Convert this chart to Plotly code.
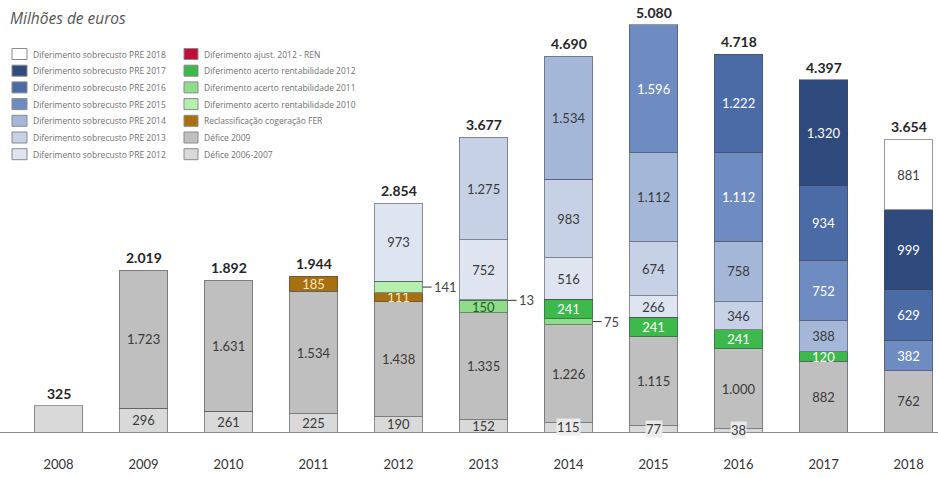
import plotly.graph_objects as go

# Years on the category axis
years = ["2008", "2009", "2010", "2011", "2012", "2013", "2014", "2015", "2016", "2017", "2018"]

# Stack components, bottom to top (millions of euros); None = no segment
defice_2006_2007 = [325, 296, 261, 225, 190, 152, 115, 77, 38, None, None]
defice_2009 = [None, 1723, 1631, 1534, 1438, 1335, 1226, 1115, 1000, 882, 762]
reclass_cogeracao = [None, None, None, 185, 111, None, None, None, None, None, None]
acerto_rent_2010 = [None, None, None, None, 141, None, None, None, None, None, None]
acerto_rent_2011 = [None, None, None, None, None, 150, 75, None, None, None, None]
acerto_rent_2012 = [None, None, None, None, None, 13, 241, 241, 241, 120, None]
ajust_2012_ren = [None] * 11
pre_2012 = [None, None, None, None, 973, 752, 516, 266, None, None, None]
pre_2013 = [None, None, None, None, None, 1275, 983, 674, 346, None, None]
pre_2014 = [None, None, None, None, None, None, 1534, 1112, 758, 388, None]
pre_2015 = [None, None, None, None, None, None, None, 1596, 1112, 752, 382]
pre_2016 = [None, None, None, None, None, None, None, None, 1222, 934, 629]
pre_2017 = [None, None, None, None, None, None, None, None, None, 1320, 999]
pre_2018 = [None, None, None, None, None, None, None, None, None, None, 881]

# Published totals printed above each bar
totals = [325, 2019, 1892, 1944, 2854, 3677, 4690, 5080, 4718, 4397, 3654]

# (name, values, fill, label colour, key column, key row)
series = [
    ("Défice 2006-2007", defice_2006_2007, "#d9d9d9", "#3a3a3a", 1, 6),
    ("Défice 2009", defice_2009, "#bfbfbf", "#3a3a3a", 1, 5),
    ("Reclassificação cogeração FER", reclass_cogeracao, "#a8700f", "#f6e7c4", 1, 4),
    ("Diferimento acerto rentabilidade 2010", acerto_rent_2010, "#b4eeb0", "#1e5e1e", 1, 3),
    ("Diferimento acerto rentabilidade 2011", acerto_rent_2011, "#8fdc8a", "#1e5e1e", 1, 2),
    ("Diferimento acerto rentabilidade 2012", acerto_rent_2012, "#3cb94a", "#ffffff", 1, 1),
    ("Diferimento ajust. 2012 - REN", ajust_2012_ren, "#c0103a", "#ffffff", 1, 0),
    ("Diferimento sobrecusto PRE 2012", pre_2012, "#dfe5f0", "#3a3a3a", 0, 6),
    ("Diferimento sobrecusto PRE 2013", pre_2013, "#c6d1e5", "#3a3a3a", 0, 5),
    ("Diferimento sobrecusto PRE 2014", pre_2014, "#a5b7d8", "#3a3a3a", 0, 4),
    ("Diferimento sobrecusto PRE 2015", pre_2015, "#6f8cc2", "#ffffff", 0, 3),
    ("Diferimento sobrecusto PRE 2016", pre_2016, "#4b6ba7", "#ffffff", 0, 2),
    ("Diferimento sobrecusto PRE 2017", pre_2017, "#2f4a7c", "#ffffff", 0, 1),
    ("Diferimento sobrecusto PRE 2018", pre_2018, "#ffffff", "#3a3a3a", 0, 0),
]

# Segments too thin for an inside label get a callout to the right
outside = {
    ("Diferimento acerto rentabilidade 2010", "2012"),
    ("Diferimento acerto rentabilidade 2012", "2013"),
    ("Diferimento acerto rentabilidade 2011", "2014"),
}
# Single-segment bar: its value is already given by the total
unlabelled = {("Défice 2006-2007", "2008")}
# Thin base segments: label floats over the baseline in a small box
boxed = {("Défice 2006-2007", y) for y in ("2014", "2015", "2016")}

W, H, PLOT_H = 938, 477, 432
EDGE = "rgba(70,70,80,0.55)"
NUM_FONT = "Lato, Open Sans, sans-serif"


def fmt(v):
    return f"{v:,}".replace(",", ".")


def px_x(p):
    return p / W


def px_y(p):
    return 1 - p / PLOT_H


fig = go.Figure()
base = [0] * len(years)
callouts = []
boxes = []
for name, vals, fill, tcol, col, row in series:
    texts = []
    for i, v in enumerate(vals):
        if v is None:
            texts.append("")
            continue
        key = (name, years[i])
        texts.append("")
        if key in outside:
            callouts.append((i, base[i] + v / 2, v))
        elif key in boxed:
            boxes.append((i, base[i] + v / 2, v, tcol))
        elif key not in unlabelled:
            texts[-1] = fmt(v)
        base[i] += v
    fig.add_trace(go.Bar(
        x=years, y=vals, name=name, text=texts,
        textposition="inside", insidetextanchor="middle", textangle=0,
        constraintext="none", cliponaxis=False,
        textfont=dict(family=NUM_FONT, size=13, color=tcol),
        marker=dict(color=fill, line=dict(color=EDGE, width=1)),
        showlegend=False, hoverinfo="skip",
    ))

annotations = []
shapes = []
for i, tot in enumerate(totals):
    annotations.append(dict(
        xref="x", yref="y", x=i, y=tot, text=f"<b>{fmt(tot)}</b>", showarrow=False,
        yanchor="bottom", yshift=2,
        font=dict(family=NUM_FONT, size=14, color="#262626"),
    ))
for i, ymid, v in callouts:
    annotations.append(dict(
        xref="x", yref="y", x=i, y=ymid, text=fmt(v), xshift=24, ax=9, ay=0,
        axref="pixel", ayref="pixel", showarrow=True, arrowhead=0,
        arrowwidth=1, arrowcolor="#333333", xanchor="left",
        font=dict(family=NUM_FONT, size=13, color="#444444"),
    ))
for i, ymid, v, tcol in boxes:
    annotations.append(dict(
        xref="x", yref="y", x=i, y=ymid, text=fmt(v), showarrow=False,
        yanchor="middle", bgcolor="rgba(236,236,236,0.95)", borderpad=0,
        font=dict(family=NUM_FONT, size=13, color=tcol),
    ))

# Two-column key in the upper left
key_swatch_x = [(12, 27), (184, 198)]
key_text_x = [31, 202]
for name, vals, fill, tcol, col, row in series:
    cy = 54 + row * 16.7
    x0, x1 = key_swatch_x[col]
    shapes.append(dict(
        type="rect", xref="paper", yref="paper",
        x0=px_x(x0), x1=px_x(x1), y0=px_y(cy + 5.5), y1=px_y(cy - 5.5),
        fillcolor=fill, line=dict(color="#8a8a8a", width=1), layer="above",
    ))
    annotations.append(dict(
        xref="paper", yref="paper", x=px_x(key_text_x[col]), y=px_y(cy),
        xanchor="left", yanchor="middle", text=name, showarrow=False,
        font=dict(family="Open Sans, sans-serif", size=8.5, color="#707070"),
    ))

annotations.append(dict(
    xref="paper", yref="paper", x=px_x(8), y=px_y(18), xanchor="left", yanchor="middle",
    text="<i>Milhões de euros</i>", showarrow=False,
    font=dict(family="Open Sans, sans-serif", size=15.5, color="#555555"),
))

fig.update_layout(
    width=W, height=H,
    margin=dict(l=0, r=0, t=0, b=H - PLOT_H),
    paper_bgcolor="white", plot_bgcolor="white",
    barmode="stack", bargap=0.43,
    separators=",.",
    uniformtext=dict(minsize=13, mode="show"),
    xaxis=dict(
        type="category", range=[-0.689, 10.346],
        showline=True, linecolor="#8c8c8c", linewidth=1,
        ticks="outside", ticklen=20, tickcolor="rgba(0,0,0,0)",
        tickfont=dict(family=NUM_FONT, size=13, color="#333333"),
        showgrid=False, zeroline=False, fixedrange=True,
    ),
    yaxis=dict(range=[0, 5393], showticklabels=False, showline=False, ticks="",
               showgrid=False, zeroline=False, fixedrange=True),
    annotations=annotations,
    shapes=shapes,
    showlegend=False,
)

fig.write_html("out.html")
